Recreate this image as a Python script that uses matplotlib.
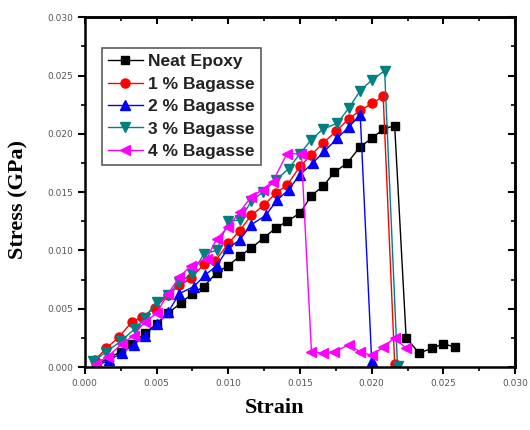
import matplotlib
matplotlib.use('Agg')
from matplotlib import pyplot as plt
from matplotlib.ticker import MultipleLocator

# 纯环氧
neat_x = [0.0008, 0.0017, 0.0025, 0.0033, 0.0042, 0.0050, 0.0058, 0.0067, 0.0075, 0.0083,
          0.0092, 0.0100, 0.0108, 0.0116, 0.0125, 0.0133, 0.0141, 0.0150, 0.0158, 0.0166,
          0.0174, 0.0183, 0.0192, 0.0200, 0.0208, 0.0216, 0.0224, 0.0233, 0.0242, 0.0250, 0.0258]
neat_y = [0.0002, 0.0008, 0.0013, 0.0020, 0.0029, 0.0037, 0.0046, 0.0055, 0.0063, 0.0069,
          0.0081, 0.0087, 0.0095, 0.0102, 0.0111, 0.0119, 0.0125, 0.0132, 0.0147, 0.0155,
          0.0167, 0.0175, 0.0189, 0.0196, 0.0204, 0.0207, 0.0025, 0.0012, 0.0016, 0.0020, 0.0017]

# 1 % 甘蔗渣
b1_x = [0.0007, 0.0015, 0.0024, 0.0033, 0.0040, 0.0049, 0.0058, 0.0066, 0.0074, 0.0083,
        0.0091, 0.0100, 0.0108, 0.0116, 0.0125, 0.0133, 0.0141, 0.0150, 0.0158, 0.0166,
        0.0175, 0.0184, 0.0192, 0.0200, 0.0208, 0.0216]
b1_y = [0.0006, 0.0016, 0.0026, 0.0039, 0.0043, 0.0051, 0.0062, 0.0070, 0.0076, 0.0088,
        0.0091, 0.0106, 0.0117, 0.0130, 0.0139, 0.0149, 0.0156, 0.0172, 0.0182, 0.0192,
        0.0202, 0.0213, 0.0220, 0.0226, 0.0232, 0.0003]

# 2 % 甘蔗渣
b2_x = [0.0008, 0.0017, 0.0026, 0.0034, 0.0042, 0.0050, 0.0058, 0.0066, 0.0076, 0.0084,
        0.0092, 0.0100, 0.0108, 0.0116, 0.0126, 0.0134, 0.0142, 0.0150, 0.0159, 0.0167,
        0.0176, 0.0184, 0.0192, 0.0200]
b2_y = [0.0001, 0.0006, 0.0012, 0.0019, 0.0027, 0.0037, 0.0047, 0.0063, 0.0069, 0.0079,
        0.0087, 0.0102, 0.0109, 0.0122, 0.0130, 0.0143, 0.0152, 0.0165, 0.0175, 0.0185,
        0.0196, 0.0206, 0.0216, 0.0005]

# 3 % 甘蔗渣
b3_x = [0.0006, 0.0015, 0.0025, 0.0035, 0.0042, 0.0050, 0.0058, 0.0066, 0.0075, 0.0083,
        0.0092, 0.0100, 0.0108, 0.0116, 0.0124, 0.0133, 0.0142, 0.0150, 0.0158, 0.0166,
        0.0176, 0.0184, 0.0192, 0.0200, 0.0209, 0.0218]
b3_y = [0.0005, 0.0013, 0.0022, 0.0033, 0.0042, 0.0056, 0.0062, 0.0073, 0.0080, 0.0097,
        0.0100, 0.0125, 0.0126, 0.0142, 0.0150, 0.0160, 0.0170, 0.0183, 0.0195, 0.0204,
        0.0209, 0.0222, 0.0237, 0.0246, 0.0254, 0.0001]

# 4 % 甘蔗渣
b4_x = [0.0008, 0.0016, 0.0026, 0.0034, 0.0042, 0.0050, 0.0058, 0.0066, 0.0074, 0.0085,
        0.0092, 0.0100, 0.0108, 0.0116, 0.0124, 0.0131, 0.0141, 0.0151, 0.0158, 0.0166,
        0.0174, 0.0184, 0.0192, 0.0200, 0.0208, 0.0216, 0.0224]
b4_y = [0.0003, 0.0009, 0.0020, 0.0027, 0.0039, 0.0046, 0.0063, 0.0077, 0.0087, 0.0093,
        0.0110, 0.0120, 0.0133, 0.0146, 0.0152, 0.0159, 0.0183, 0.0183, 0.0013, 0.0012,
        0.0013, 0.0019, 0.0013, 0.0010, 0.0017, 0.0025, 0.0016]

labels = ['Neat Epoxy', '1 % Bagasse', '2 % Bagasse', '3 % Bagasse', '4 % Bagasse']
colors = ['#000000', '#ff0000', '#0000ff', '#008080', '#ff00ff']
markers = ['s', 'o', '^', 'v', '<']
sizes = [6, 6.5, 7.5, 7.5, 7.5]

fig = plt.figure(figsize=(5.3, 4.3), dpi=100)
ax = fig.add_axes([0.160, 0.1465, 0.812, 0.8135])

series = [(neat_x, neat_y), (b1_x, b1_y), (b2_x, b2_y), (b3_x, b3_y), (b4_x, b4_y)]
for (x, y), lab, c, m, s in zip(series, labels, colors, markers, sizes):
    ax.plot(x, y, color=c, marker=m, markersize=s, linewidth=1, label=lab)

ax.set_xlim(0, 0.030)
ax.set_ylim(0, 0.030)
ax.xaxis.set_major_locator(MultipleLocator(0.005))
ax.xaxis.set_minor_locator(MultipleLocator(0.0025))
ax.yaxis.set_major_locator(MultipleLocator(0.005))
ax.yaxis.set_minor_locator(MultipleLocator(0.0025))
ax.xaxis.set_major_formatter(plt.FormatStrFormatter('%.3f'))
ax.yaxis.set_major_formatter(plt.FormatStrFormatter('%.3f'))
ax.tick_params(which='major', direction='out', length=5, width=1.5,
               labelsize=6.5, labelcolor='#555555')
ax.tick_params(which='minor', direction='out', length=3, width=1.2)
for sp in ax.spines.values():
    sp.set_linewidth(1.8)

# 上方和右侧刻度朝内
top = ax.secondary_xaxis('top')
top.xaxis.set_major_locator(MultipleLocator(0.005))
top.xaxis.set_minor_locator(MultipleLocator(0.0025))
top.tick_params(which='major', direction='in', length=5, width=1.5, labeltop=False)
top.tick_params(which='minor', direction='in', length=3, width=1.2)
top.spines['top'].set_linewidth(1.8)
right = ax.secondary_yaxis('right')
right.yaxis.set_major_locator(MultipleLocator(0.005))
right.yaxis.set_minor_locator(MultipleLocator(0.0025))
right.tick_params(which='major', direction='in', length=5, width=1.5, labelright=False)
right.tick_params(which='minor', direction='in', length=3, width=1.2)
right.spines['right'].set_linewidth(1.8)

ax.set_xlabel('Strain', family='Liberation Serif', fontweight='bold', fontsize=16)
ax.set_ylabel('Stress (GPa)', family='Liberation Serif', fontweight='bold', fontsize=16)
ax.xaxis.set_label_coords(0.44, -0.09)
ax.yaxis.set_label_coords(-0.13, 0.48)

leg = ax.legend(loc='upper left', bbox_to_anchor=(0.04, 0.912), frameon=True,
                fancybox=False, edgecolor='#333333', borderpad=0.35, labelspacing=0.42,
                handlelength=2.0, handletextpad=0.3, borderaxespad=0,
                prop={'family': 'Liberation Sans', 'weight': 'bold', 'size': 12.5})
leg.get_frame().set_linewidth(1.2)
for t in leg.get_texts():
    t.set_color('#222222')

fig.savefig('out.png', dpi=100)
